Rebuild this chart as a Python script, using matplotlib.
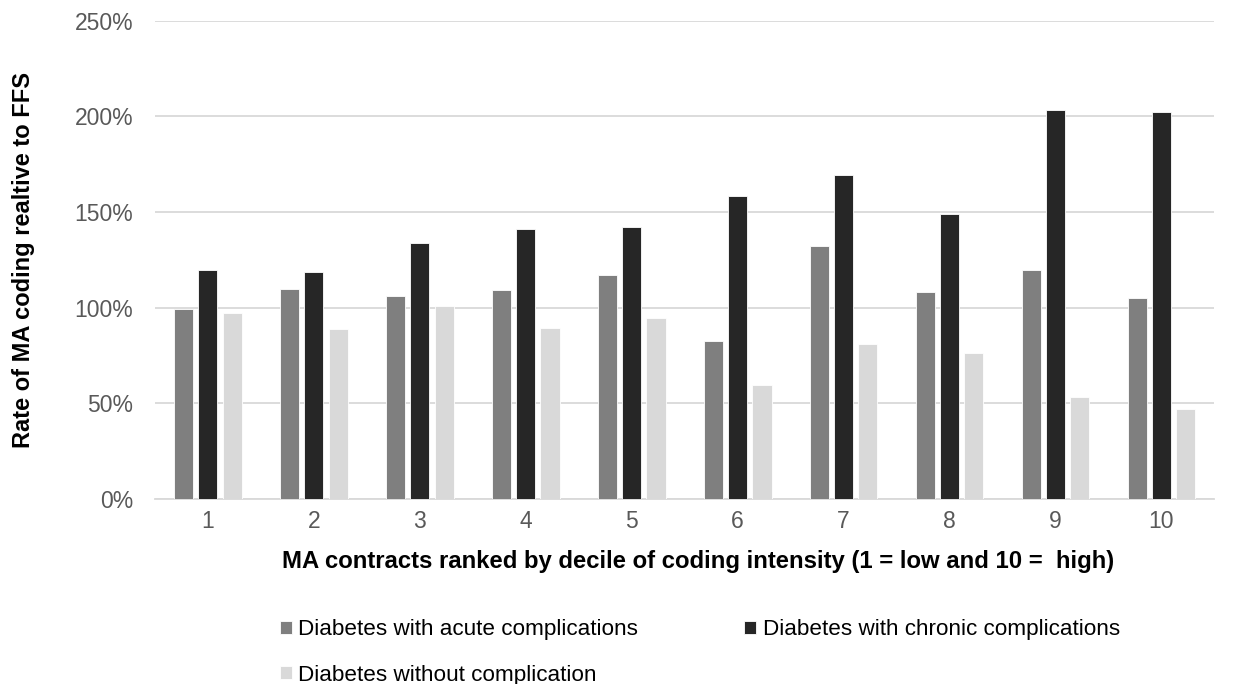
import matplotlib.pyplot as plt
import numpy as np
from matplotlib.ticker import PercentFormatter

plt.rcParams['font.family'] = ['Liberation Sans', 'DejaVu Sans']

# Data
deciles = ['1', '2', '3', '4', '5', '6', '7', '8', '9', '10']
acute = [99.5, 109.9, 106.3, 109.3, 116.9, 82.8, 132.3, 108.2, 119.5, 105.2]
chronic = [119.9, 118.8, 133.8, 141.0, 142.3, 158.4, 169.2, 148.8, 203.2, 202.1]
without = [97.4, 88.9, 100.9, 89.4, 94.8, 59.6, 80.9, 76.3, 53.3, 47.0]

series_names = ['Diabetes with acute complications',
                'Diabetes with chronic complications',
                'Diabetes without complication']
colors = ['#7f7f7f', '#262626', '#d9d9d9']

fig = plt.figure(figsize=(12.38, 6.84), dpi=100)
ax = fig.add_axes([0.125, 0.2705, 0.856, 0.6995])

x = np.arange(len(deciles))
w = 0.18
off = 0.23
bars = []
for i, (vals, name, c) in enumerate(zip([acute, chronic, without], series_names, colors)):
    b = ax.bar(x + (i - 1) * off, vals, width=w, color=c, label=name,
               edgecolor='white', linewidth=0.6, zorder=3)
    bars.append(b)

ax.set_xlim(-0.5, len(deciles) - 0.5)
ax.set_ylim(0, 250)
ax.set_yticks(np.arange(0, 251, 50))
ax.yaxis.set_major_formatter(PercentFormatter(decimals=0))
ax.set_xticks(x)
ax.set_xticklabels(deciles)

ax.grid(axis='y', color='#d9d9d9', linewidth=1.3, zorder=0)
for s in ['top', 'right', 'left']:
    ax.spines[s].set_visible(False)
ax.spines['bottom'].set_color('#d9d9d9')
ax.spines['bottom'].set_linewidth(1.3)
ax.tick_params(axis='both', length=0, labelsize=16.5, labelcolor='#595959')
ax.tick_params(axis='y', pad=15.5)
ax.tick_params(axis='x', pad=8)

ax.set_ylabel('Rate of MA coding realtive to FFS', fontsize=17, fontweight='bold', labelpad=28.5)
ax.set_xlabel('MA contracts ranked by decile of coding intensity (1 = low and 10 =  high)',
              fontsize=17.2, fontweight='bold', labelpad=12)
ax.xaxis.label.set_x(0.5127)

# reorder so the legend reads row by row
order = [0, 2, 1]
ax.legend([bars[k] for k in order], [series_names[k] for k in order],
          loc='upper left', bbox_to_anchor=(0.0987, -0.209), ncol=2, frameon=False,
          fontsize=16.2, handlelength=0.53, handleheight=0.53, handletextpad=0.3,
          columnspacing=4.7, labelspacing=1.09)

fig.savefig('out.png', dpi=100)
